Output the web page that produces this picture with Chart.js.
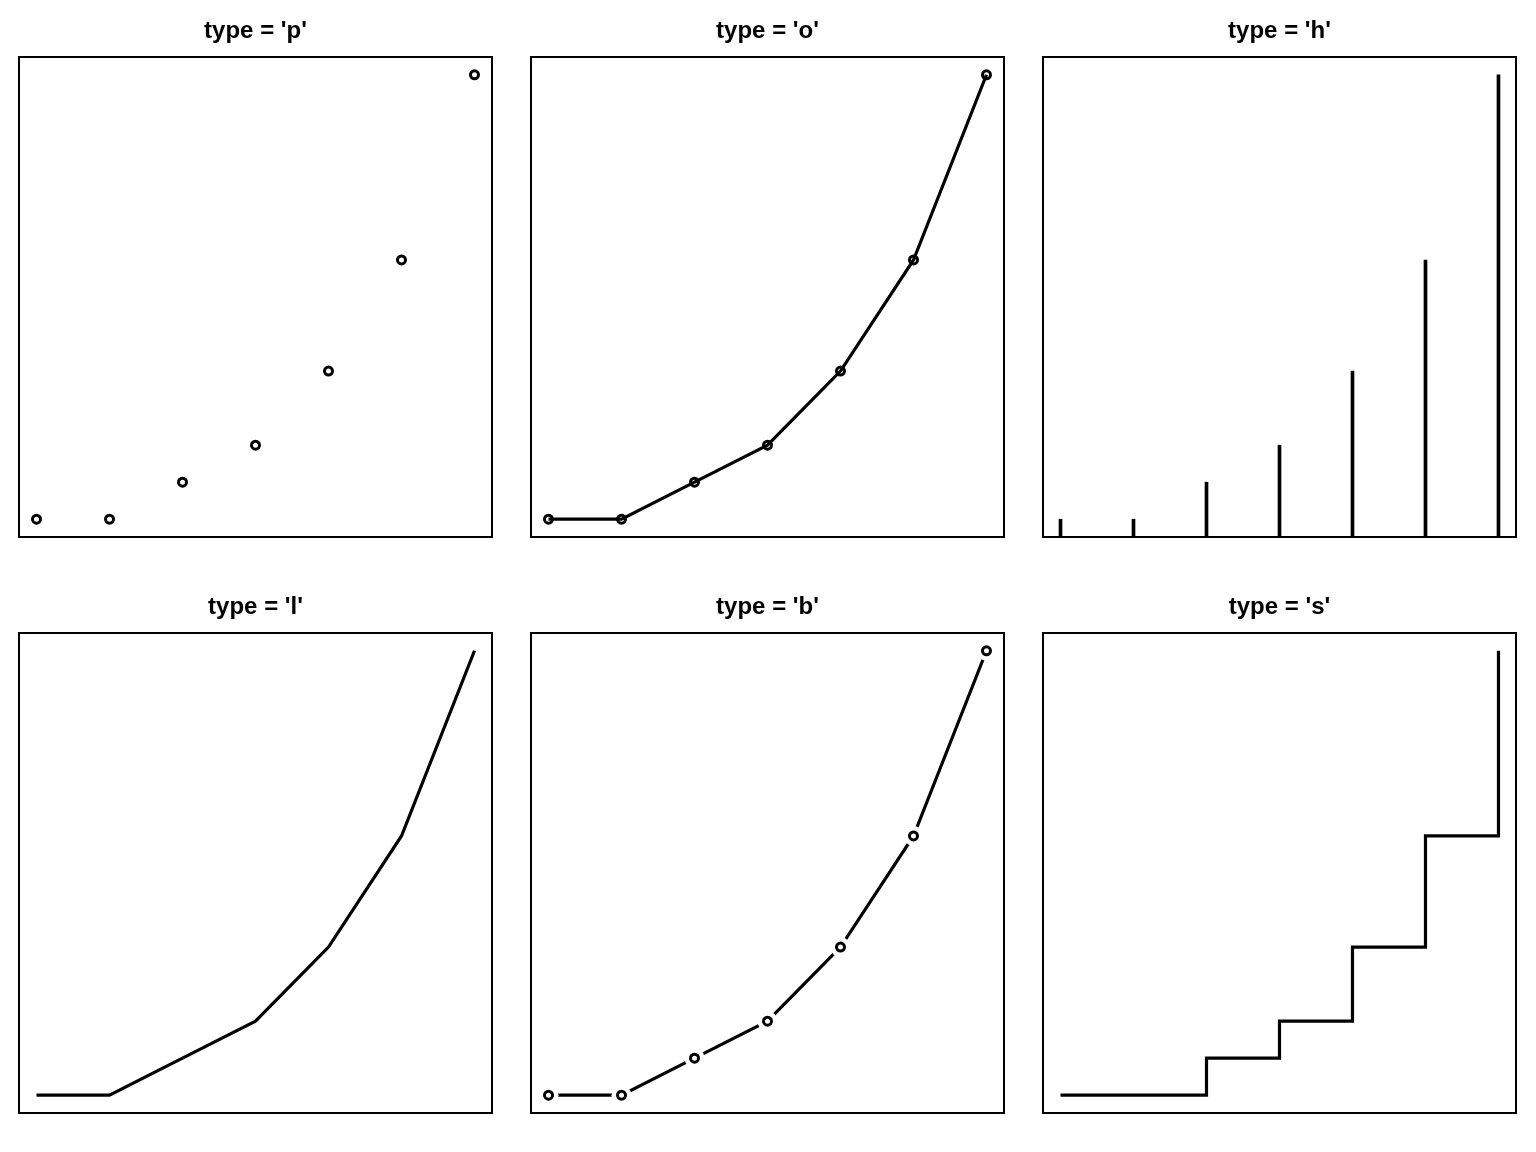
<!DOCTYPE html>
<html>
<head>
<meta charset="utf-8">
<script src="https://cdn.jsdelivr.net/npm/chart.js@4"></script>
<style>
  body { margin: 0; background: #fff; }
  #wrap { position: relative; width: 1536px; height: 1152px; }
  .cell { position: absolute; width: 512px; height: 576px; }
</style>
</head>
<body>
<div id="wrap"></div>
<script>
// Data: x = 1..7, y = Fibonacci numbers
const xValues = [1, 2, 3, 4, 5, 6, 7];
const yValues = [1, 1, 2, 3, 5, 8, 13];
const plotTypes = ['p', 'o', 'h', 'l', 'b', 's'];

const points = xValues.map((x, i) => ({ x: x, y: yValues[i] }));

// draws the frame around the plot region and the panel title
const framePlugin = {
    id: 'frame',
    afterDraw(chart, args, opts) {
        const { ctx, chartArea: a } = chart;
        ctx.save();
        ctx.strokeStyle = '#000';
        ctx.lineWidth = 2;
        ctx.strokeRect(a.left, a.top, a.right - a.left, a.bottom - a.top);
        ctx.fillStyle = '#000';
        ctx.font = "bold 24px 'Liberation Sans', Arial, sans-serif";
        ctx.textAlign = 'center';
        ctx.textBaseline = 'middle';
        ctx.fillText(opts.text, (a.left + a.right) / 2, 31);
        ctx.restore();
    },
};

function lineSet(extra) {
    return Object.assign({
        type: 'line',
        data: points,
        borderColor: '#000',
        borderWidth: 3.2,
        pointRadius: 0,
        fill: false,
        tension: 0,
    }, extra);
}

function markerSet(extra) {
    return Object.assign({
        type: 'line',
        data: points,
        showLine: false,
        pointRadius: 4,
        pointBorderWidth: 3,
        pointBorderColor: '#000',
        pointBackgroundColor: 'rgba(0,0,0,0)',
    }, extra);
}

function datasetsFor(t) {
    if (t === 'p') return [markerSet({})];
    if (t === 'l') return [lineSet({})];
    if (t === 'o') return [markerSet({ order: 1 }), lineSet({ order: 2 })];
    if (t === 's') return [lineSet({ stepped: 'before' })];
    if (t === 'h') {
        return [{
            type: 'bar',
            data: points,
            backgroundColor: '#000',
            barThickness: 3,
            base: 0,
        }];
    }
    // 'b': line broken around the markers, mimicked with a white halo
    return [
        markerSet({ order: 1 }),
        markerSet({ order: 2, pointRadius: 10, pointBorderWidth: 0,
                    pointBackgroundColor: '#fff', pointBorderColor: '#fff' }),
        lineSet({ order: 3 }),
    ];
}

const wrap = document.getElementById('wrap');
plotTypes.forEach((t, i) => {
    const div = document.createElement('div');
    div.className = 'cell';
    div.style.left = (i % 3) * 512 + 'px';
    div.style.top = Math.floor(i / 3) * 576 + 'px';
    const canvas = document.createElement('canvas');
    div.appendChild(canvas);
    wrap.appendChild(div);

    new Chart(canvas, {
        data: { datasets: datasetsFor(t) },
        options: {
            responsive: true,
            maintainAspectRatio: false,
            animation: false,
            events: [],
            layout: { padding: { left: 19, right: 20, top: 57, bottom: 39 } },
            plugins: {
                legend: { display: false },
                tooltip: { enabled: false },
                frame: { text: "type = '" + t + "'" },
            },
            scales: {
                x: { type: 'linear', display: false, min: 0.76, max: 7.24, offset: false },
                y: { type: 'linear', display: false, min: 0.52, max: 13.48 },
            },
        },
        plugins: [framePlugin],
    });
});
</script>
</body>
</html>
